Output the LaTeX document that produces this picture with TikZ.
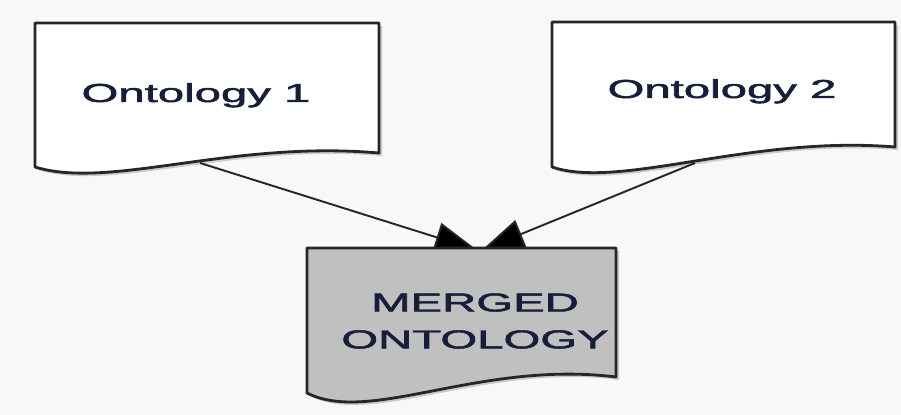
\documentclass[tikz,border=0pt]{standalone}
\usepackage{fontspec}
\setmainfont{Liberation Sans}
\newfontfamily\lblfont{Liberation Sans}[FakeBold=1.6]
\usetikzlibrary{arrows.meta}
\definecolor{bgc}{RGB}{248,248,248}
\definecolor{txt}{RGB}{22,30,58}
\definecolor{mfill}{RGB}{192,192,192}
\newcommand{\lbl}[1]{\scalebox{1.82}[1]{#1}}
\begin{document}
\begin{tikzpicture}[x=0.02cm,y=-0.02cm,
  docbox/.style={draw=black!85, line width=1.6pt, line join=round},
  docshadow/.style={fill=black, opacity=0.18},
  lbltext/.style={text=txt, font=\lblfont\fontsize{14.8}{21}\selectfont, align=center, inner sep=0pt},
  conn/.style={draw=black!85, line width=1.1pt, -{Triangle[length=24pt,width=17pt,fill=black]}}]
\fill[bgc] (0,0) rectangle (901,415);
\useasboundingbox (0,0) rectangle (901,415);
% shadows
\fill[docshadow] (38,26) -- (382,26) -- (382,156) .. controls (233,143) and (113,193) .. (38,170) -- cycle;
\fill[docshadow] (555,25) -- (898,25) -- (898,150) .. controls (753,138) and (623,193) .. (555,170) -- cycle;
% document shapes
\path[docbox, fill=white] (35,23) -- (379,23) -- (379,153) .. controls (230,140) and (110,190) .. (35,167) -- cycle;
\path[docbox, fill=white] (552,22) -- (895,22) -- (895,147) .. controls (750,135) and (620,190) .. (552,167) -- cycle;
% connector ends
\coordinate (o1out) at (200,163);
\coordinate (o2out) at (695,163);
\coordinate (min1) at (477,250);
\coordinate (min2) at (482,250);
\draw[conn] (o1out) -- (min1);
\draw[conn] (o2out) -- (min2);
% merged document
\fill[docshadow] (310,251) -- (619,251) -- (619,380) .. controls (483,363) and (373,428) .. (310,396) -- cycle;
\path[docbox, fill=mfill] (307,248) -- (616,248) -- (616,377) .. controls (480,360) and (370,425) .. (307,393) -- cycle;
% labels
\node[lbltext, anchor=base] (o1) at (196,102) {\lbl{Ontology 1}};
\node[lbltext, anchor=base] (o2) at (722,98) {\lbl{Ontology 2}};
\node[lbltext, anchor=center] (m) at (475,321) {\lbl{MERGED}\\\lbl{ONTOLOGY}};
\end{tikzpicture}
\end{document}
